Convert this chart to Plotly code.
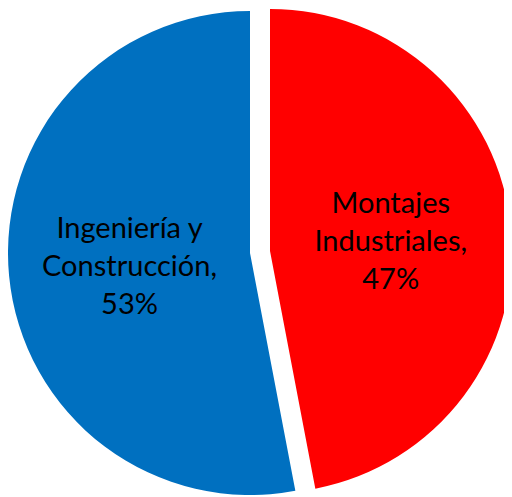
import plotly.graph_objects as go

labels = ["Montajes Industriales", "Ingeniería y Construcción"]
values = [47, 53]
display_text = ["Montajes<br>Industriales,<br>47%", "Ingeniería y<br>Construcción,<br>53%"]
colors = ["#FF0000", "#0070C0"]

# the page body adds an 8px margin, so the figure is 8px smaller than the window
OFF = 8
W, H = 512 - OFF, 497 - OFF
TRANSPARENT = "rgba(0,0,0,0)"

def dom(cx, cy, r):
    # centre/radius given in window pixels -> pie domain (margins are zero)
    cx, cy = cx - OFF, cy - OFF
    x0, x1 = (cx - r) / W, (cx + r) / W
    y0 = 1 - (cy + r) / H
    y1 = y0 + 2 * r / H
    return dict(x=[max(0, x0), min(1, x1)], y=[max(0, y0), min(1, y1)])

font = dict(family="Lato, 'Open Sans', sans-serif", size=29, color="black")

fig = go.Figure()
# un-pulled slice (blue)
fig.add_trace(go.Pie(
    labels=labels, values=values, sort=False, direction="clockwise", rotation=0,
    marker=dict(colors=[TRANSPARENT, colors[1]], line=dict(width=0)),
    text=["", display_text[1]], textinfo="text", textposition="inside",
    insidetextorientation="horizontal", insidetextfont=font,
    domain=dom(250, 253, 242), showlegend=False, hoverinfo="label+percent",
))
# exploded slice (red)
fig.add_trace(go.Pie(
    labels=labels, values=values, sort=False, direction="clockwise", rotation=0,
    marker=dict(colors=[colors[0], TRANSPARENT], line=dict(width=0)),
    text=[display_text[0], ""], textinfo="text", textposition="inside",
    insidetextorientation="horizontal", insidetextfont=font,
    domain=dom(270, 251, 242), showlegend=False, hoverinfo="label+percent",
))
fig.update_layout(
    width=W, height=H, margin=dict(l=0, r=0, t=0, b=0),
    paper_bgcolor="white", plot_bgcolor="white", showlegend=False,
)
fig.write_html("out.html")
